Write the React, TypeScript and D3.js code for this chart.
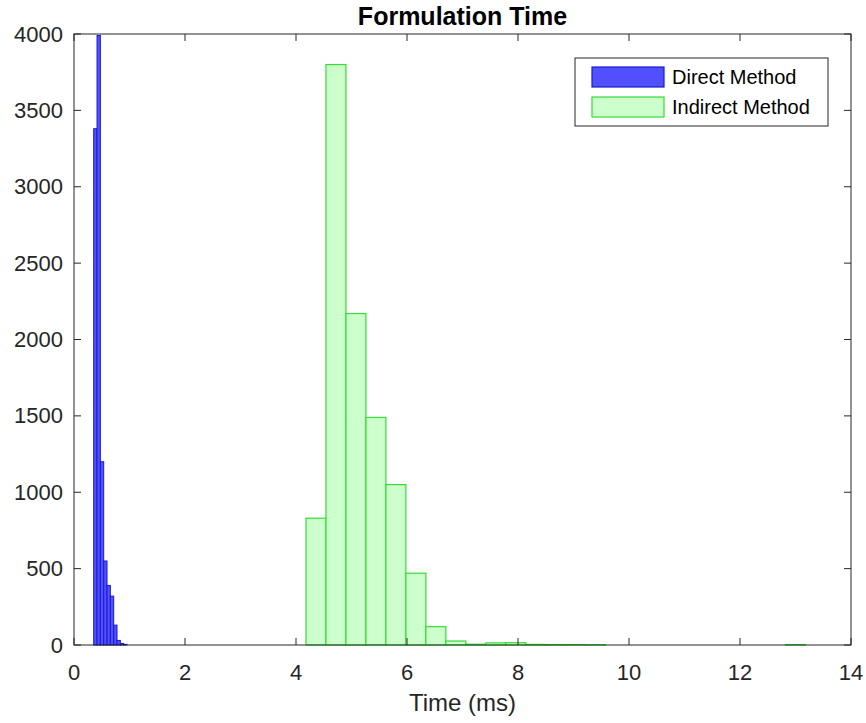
import React from "react";
import * as d3 from "d3";

// Direct method histogram (bin edges start, width, counts)
const directStart = 0.355;
const directWidth = 0.06;
const directCounts = [3380, 3990, 1200, 550, 390, 320, 130, 30, 10, 4];

// Indirect method histogram
const indirectStart = 4.18;
const indirectWidth = 0.36;
const indirectCounts = [
  830, 3800, 2170, 1490, 1050, 470, 120, 26, 5, 14, 15, 4, 3, 3, 2,
  0, 0, 0, 0, 0, 0, 0, 0, 0, 3,
];

const xTicks = [0, 2, 4, 6, 8, 10, 12, 14];
const yTicks = [0, 500, 1000, 1500, 2000, 2500, 3000, 3500, 4000];
const legendLabels = ["Direct Method", "Indirect Method"];

const W = 866;
const H = 723;
const left = 74;
const right = 851;
const top = 34;
const bottom = 645;
const axisColor = "#262626";
const font = "'Liberation Sans', Arial, Helvetica, sans-serif";

export default function App() {
  const x = d3.scaleLinear().domain([0, 14]).range([left, right]);
  const y = d3.scaleLinear().domain([0, 4000]).range([bottom, top]);

  const mkBins = (start: number, w: number, counts: number[]) =>
    counts.map((c, i) => ({ x0: start + i * w, x1: start + (i + 1) * w, c }));

  const direct = mkBins(directStart, directWidth, directCounts);
  const indirect = mkBins(indirectStart, indirectWidth, indirectCounts);

  const tickLen = 7;
  const series = [
    { fill: "#5050ff", stroke: "#1a1ad0" },
    { fill: "#ccffcc", stroke: "#33dd33" },
  ];

  return (
    <svg
      width={W}
      height={H}
      style={{ position: "absolute", left: 0, top: 0, background: "#fff" }}
      fontFamily={font}
    >
      <rect x={0} y={0} width={W} height={H} fill="#fff" />
      {/* bars */}
      {direct.map((b, i) => (
        <rect
          key={"d" + i}
          x={x(b.x0)}
          y={y(b.c)}
          width={x(b.x1) - x(b.x0)}
          height={y(0) - y(b.c)}
          fill={series[0].fill}
          stroke={series[0].stroke}
          strokeWidth={1}
        />
      ))}
      {indirect.map((b, i) => (
        <rect
          key={"i" + i}
          x={x(b.x0)}
          y={y(b.c)}
          width={x(b.x1) - x(b.x0)}
          height={y(0) - y(b.c)}
          fill={series[1].fill}
          stroke={series[1].stroke}
          strokeWidth={1.2}
        />
      ))}

      {/* axes box */}
      <rect
        x={left}
        y={top}
        width={right - left}
        height={bottom - top}
        fill="none"
        stroke={axisColor}
        strokeWidth={1}
      />
      {xTicks.map((t) => (
        <g key={"xt" + t}>
          <line x1={x(t)} x2={x(t)} y1={bottom} y2={bottom - tickLen} stroke={axisColor} />
          <line x1={x(t)} x2={x(t)} y1={top} y2={top + tickLen} stroke={axisColor} />
          <text
            x={x(t)}
            y={672}
            textAnchor="middle"
            dominantBaseline="central"
            fontSize={22}
            fill={axisColor}
          >
            {t}
          </text>
        </g>
      ))}
      {yTicks.map((t) => (
        <g key={"yt" + t}>
          <line x1={left} x2={left + tickLen} y1={y(t)} y2={y(t)} stroke={axisColor} />
          <line x1={right} x2={right - tickLen} y1={y(t)} y2={y(t)} stroke={axisColor} />
          <text
            x={63}
            y={y(t)}
            textAnchor="end"
            dominantBaseline="central"
            fontSize={22}
            fill={axisColor}
          >
            {t}
          </text>
        </g>
      ))}

      {/* labels */}
      <text
        x={(left + right) / 2}
        y={702}
        textAnchor="middle"
        dominantBaseline="central"
        fontSize={24}
        fill={axisColor}
      >
        Time (ms)
      </text>
      <text
        x={(left + right) / 2}
        y={16}
        textAnchor="middle"
        dominantBaseline="central"
        fontSize={25}
        fontWeight="bold"
        fill="#000"
      >
        Formulation Time
      </text>

      {/* legend */}
      <rect x={575} y={58} width={253} height={68} fill="#fff" stroke={axisColor} strokeWidth={1} />
      {legendLabels.map((lab, i) => (
        <g key={lab}>
          <rect
            x={592}
            y={67 + i * 30}
            width={72}
            height={20}
            fill={series[i].fill}
            stroke={series[i].stroke}
            strokeWidth={1.2}
          />
          <text
            x={672}
            y={77 + i * 30}
            dominantBaseline="central"
            fontSize={20}
            fill="#000"
          >
            {lab}
          </text>
        </g>
      ))}
    </svg>
  );
}
